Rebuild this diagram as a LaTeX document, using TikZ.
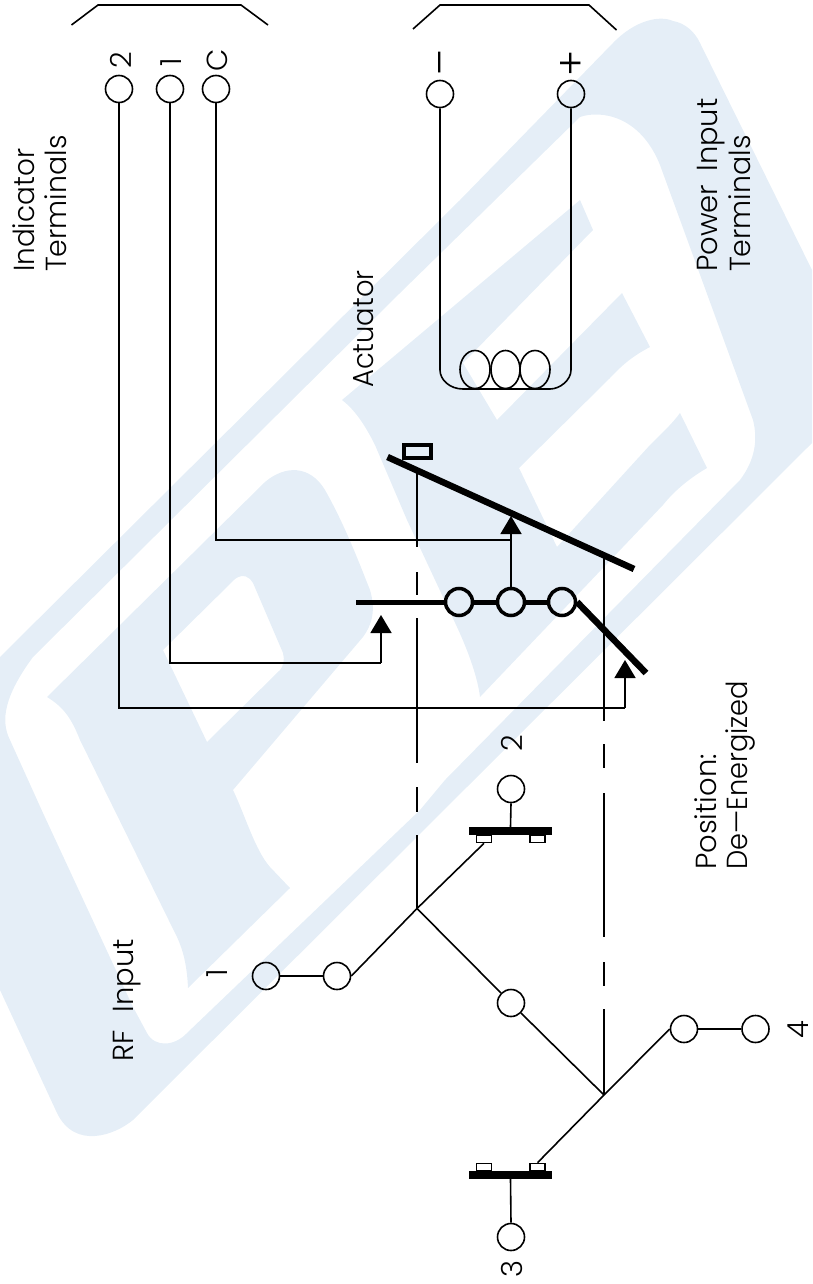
\documentclass[tikz,border=0pt]{standalone}
\usepackage{fontspec}
\usepackage{graphicx}
\setmainfont{Poppins Light}
\usetikzlibrary{arrows.meta}
\definecolor{wm}{HTML}{E5EEF7}
\tikzset{
  x=1pt,y=-1pt,
  wire/.style={line width=1.6pt,black,line join=miter},
  term/.style={circle,draw=black,line width=1.6pt,minimum size=27pt,inner sep=0pt},
  hub/.style={circle,draw=black,line width=3.5pt,minimum size=27pt,inner sep=0pt},
  heavy/.style={line width=5pt,black},
  lever/.style={line width=6.5pt,black},
  tip/.style={-{Triangle[length=18pt,width=21pt]}},
  lab/.style={rotate=90,anchor=base west,font=\fontsize{29}{29}\selectfont,inner sep=0pt,text=black},
  num/.style={rotate=90,anchor=base,font=\fontsize{29}{29}\selectfont,inner sep=0pt,text=black},
  padbox/.style={draw=black,line width=1.6pt,fill=white},
  barbox/.style={fill=black,draw=none},
}
\begin{document}
\begin{tikzpicture}
\useasboundingbox (0,0) rectangle (812,1284);
% watermark: outer band
\fill[wm,even odd rule]
 (0,657) -- (460,200) -- (613,43) .. controls (635,20) and (660,15) .. (673,21)
 .. controls (685,23) and (695,32) .. (700,43) -- (812,270) -- (812,443) -- (133,1120)
 .. controls (115,1135) and (75,1150) .. (57,1113) -- (0,990) -- cycle
 (33,657) -- (400,293) -- (580,117) .. controls (600,110) and (640,115) .. (660,165)
 -- (753,420) .. controls (758,440) and (755,460) .. (740,480) -- (445,780) -- (420,810)
 -- (187,1033) .. controls (175,1046) and (155,1048) .. (147,1033) -- (133,1007) -- (43,813)
 -- (10,740) .. controls (0,720) and (5,695) .. (33,657) -- cycle;
% watermark: P
\fill[wm,even odd rule]
 (47,697) -- (265,482) .. controls (285,465) and (310,465) .. (325,490)
 .. controls (345,525) and (360,565) .. (370,590) .. controls (376,610) and (372,625) .. (363,637)
 -- (233,790) .. controls (245,815) and (255,850) .. (270,867) -- (290,888) -- (188,988)
 .. controls (187,965) and (183,950) .. (177,937) -- (80,740) .. controls (72,720) and (65,708) .. (47,697) -- cycle
 (163,650) -- (235,579) .. controls (243,573) and (250,577) .. (253,583) -- (283,653) .. controls (285,660) and (283,667) .. (280,670) -- (207,742) -- cycle;
% watermark: E
\fill[wm]
 (342,400) -- (580,200) -- (593,230) -- (463,363) -- (497,420) -- (622,293) -- (650,347)
 .. controls (635,355) and (625,362) .. (610,378) -- (519,468) -- (557,547) -- (650,445)
 .. controls (662,433) and (672,424) .. (680,413) -- (707,468) .. controls (690,478) and (675,490) .. (663,505)
 -- (480,697) .. controls (478,680) and (470,655) .. (457,627) -- (407,520) -- (375,445)
 .. controls (365,425) and (355,410) .. (342,400) -- cycle;
% brackets
\coordinate (b1a) at (71.5,25); \coordinate (b1b) at (98,5); \coordinate (b1c) at (241,5); \coordinate (b1d) at (268,25);
\coordinate (b2a) at (413,29); \coordinate (b2b) at (440,5); \coordinate (b2c) at (589,5); \coordinate (b2d) at (616.5,30);
\draw[wire] (b1a)--(b1b)--(b1c)--(b1d);
\draw[wire] (b2a)--(b2b)--(b2c)--(b2d);
% terminals
\node[term] (t2) at (119,89) {};
\node[term] (t1) at (170,89) {};
\node[term] (tc) at (216,89) {};
\node[term] (pm) at (440,94) {};
\node[term] (pp) at (571,94) {};
\node[num] (l2) at (131,60) {2};
\node[num] (l1) at (181,62) {1};
\node[num] (lc) at (227,60) {C};
\node[num,font=\fontsize{40}{40}\selectfont] (lm) at (454,63) {–};
\node[num,font=\fontsize{40}{40}\selectfont] (lp) at (585,63) {+};
% texts
\node[lab] (ind) at (34,272) {\scalebox{0.96}[1]{Indicator}};
\node[lab] (ter) at (66,272) {\scalebox{0.98}[1]{Terminals}};
\node[lab] (act) at (373,388) {\scalebox{0.945}[1]{Actuator}};
\node[lab] (pow) at (717,272) {Power\hspace{0.45em}Input};
\node[lab] (ter2) at (750,272) {\scalebox{0.98}[1]{Terminals}};
\node[lab] (pos) at (716,870) {Position:};
\node[lab] (dee) at (747,870) {\scalebox{0.94}[1]{De—Energized}};
\node[lab] (rf) at (133,1062) {RF\hspace{0.62em}Input};
\node[num] (n2) at (522,743) {2};
\node[num] (n1) at (227,973) {1};
\node[num] (n3) at (522,1269) {3};
\node[num] (n4) at (808,1030) {\smash{4}};
% coil
\coordinate (cl) at (440,370); \coordinate (cr) at (571,370);
\coordinate (cbl) at (463,389); \coordinate (cbr) at (550,389);
\draw[wire] (pm.south) -- (cl) .. controls (440,380) and (450,389) .. (cbl) -- (cbr) .. controls (560,389) and (571,380) .. (cr) -- (pp.south);
\draw[wire] (475,369.5) ellipse [x radius=15,y radius=19];
\draw[wire] (505.5,369.5) ellipse [x radius=14.5,y radius=19];
\draw[wire] (535,369.5) ellipse [x radius=15,y radius=19];
% moving part
\node[hub] (m1) at (459,602) {};
\node[hub] (m2) at (511,602) {};
\node[hub] (m3) at (562,602) {};
\coordinate (be) at (356,602);
\coordinate (ls) at (577,602); \coordinate (le) at (646,673);
\coordinate (us) at (387.5,457); \coordinate (ue) at (634,569);
\draw[heavy] (be) -- (m1.west);
\draw[heavy] (m1.east) -- (m2.west);
\draw[heavy] (m2.east) -- (m3.west);
\draw[lever] (ls) -- (le);
\draw[lever] (us) -- (ue);
\node[draw=black,line width=4pt,minimum width=27pt,minimum height=13.5pt,inner sep=0pt] (stop) at (417,451.5) {};
% indicator wires
\coordinate (c1) at (381,663); \coordinate (tip1) at (381,615);
\coordinate (c2) at (625,708); \coordinate (tip2) at (625,660);
\coordinate (cc) at (511,540); \coordinate (tipc) at (511,516);
\draw[wire] (t1.south) |- (c1);
\draw[wire,tip] (c1) -- (tip1);
\draw[wire] (t2.south) |- (c2);
\draw[wire,tip] (c2) -- (tip2);
\draw[wire] (tc.south) |- (cc);
\draw[wire,tip] (m2.north) -- (tipc);
% RF section
\coordinate (j1) at (417,908.5); \coordinate (j2) at (604,1095);
\coordinate (u1) at (417,470.4); \coordinate (u2) at (604,555.5);
\draw[wire,dash pattern=on 76.6pt off 25pt on 23pt off 23pt on 145pt off 24pt on 25pt off 23pt on 80pt] (u1) -- (j1);
\draw[wire,dash pattern=on 165.5pt off 23pt on 24pt off 25pt on 144pt off 25pt on 24pt off 23pt on 90pt] (u2) -- (j2);
\node[term] (r1) at (266,976) {};
\node[term] (r1b) at (337,976) {};
\node[term] (rm) at (511,1003) {};
\node[term] (r4a) at (684,1029) {};
\node[term] (r4) at (755.5,1029) {};
\node[term] (r2) at (511,789) {};
\node[term] (r3) at (511,1237) {};
\draw[wire] (r1) -- (r1b);
\draw[wire] (r4a) -- (r4);
\draw[wire] (r1b.east) -- (j1);
\draw[wire] (j1) -- (rm.north west);
\draw[wire] (rm.south east) -- (j2);
\draw[wire] (j2) -- (r4a.west);
% top pad group
\node[barbox,minimum width=83pt,minimum height=8pt,inner sep=0pt] (bar2) at (510.5,831) {};
\node[padbox,minimum width=15pt,minimum height=7pt,inner sep=0pt] (p2a) at (484,839) {};
\node[padbox,minimum width=15pt,minimum height=7pt,inner sep=0pt] (p2b) at (537.5,839) {};
\draw[wire] (bar2.north) -- (r2.south);
\draw[wire] (j1) -- (p2a.south);
% bottom pad group
\node[barbox,minimum width=83pt,minimum height=8pt,inner sep=0pt] (bar3) at (510.5,1175) {};
\node[padbox,minimum width=15pt,minimum height=7pt,inner sep=0pt] (p3a) at (484,1167) {};
\node[padbox,minimum width=15pt,minimum height=7pt,inner sep=0pt] (p3b) at (537.5,1167) {};
\draw[wire] (bar3.south) -- (r3.north);
\draw[wire] (j2) -- (p3b.north);
\end{tikzpicture}
\end{document}
